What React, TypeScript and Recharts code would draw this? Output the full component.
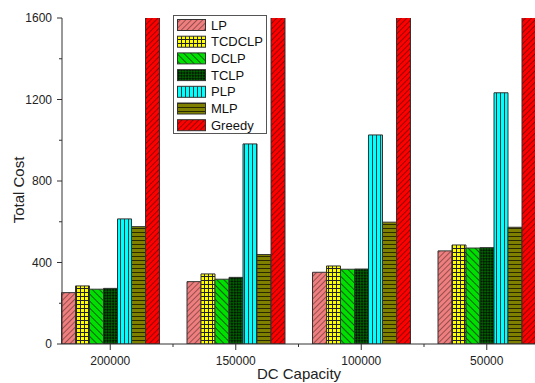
import React from "react";
import { BarChart, Bar, XAxis, YAxis } from "recharts";

const categories = ["200000", "150000", "100000", "50000"];
const lp = [252, 306, 352, 457];
const tcdclp = [285, 344, 383, 486];
const dclp = [269, 318, 367, 471];
const tclp = [273, 327, 368, 473];
const plp = [614, 982, 1026, 1233];
const mlp = [576, 439, 598, 573];
const greedy = [2400, 2400, 2400, 2400];
const yTicks = [0, 200, 400, 600, 800, 1000, 1200, 1400, 1600];

const series = [
  { key: "LP", values: lp, fill: "url(#pLP)" },
  { key: "TCDCLP", values: tcdclp, fill: "url(#pTCDCLP)" },
  { key: "DCLP", values: dclp, fill: "url(#pDCLP)" },
  { key: "TCLP", values: tclp, fill: "url(#pTCLP)" },
  { key: "PLP", values: plp, fill: "url(#pPLP)" },
  { key: "MLP", values: mlp, fill: "url(#pMLP)" },
  { key: "Greedy", values: greedy, fill: "url(#pGreedy)" },
];

const data = categories.map((c, i) => {
  const row: any = { name: c };
  series.forEach((s) => (row[s.key] = s.values[i]));
  return row;
});

const FONT = "'Liberation Sans', Arial, sans-serif";
const AXIS = "#333";

const Patterns = () => (
  <svg width={0} height={0} style={{ position: "absolute" }}>
    <defs>
      <pattern id="pLP" width={4} height={4} patternUnits="userSpaceOnUse" patternTransform="rotate(45)">
        <rect width={4} height={4} fill="#ef7f7f" />
        <line x1={0} y1={0} x2={0} y2={4} stroke="#5a2a2a" strokeWidth={1.2} />
      </pattern>
      <pattern id="pTCDCLP" width={4} height={4} patternUnits="userSpaceOnUse">
        <rect width={4} height={4} fill="#ffff00" />
        <line x1={0.5} y1={0} x2={0.5} y2={4} stroke="#222" strokeWidth={1} />
        <line x1={0} y1={0.5} x2={4} y2={0.5} stroke="#222" strokeWidth={1} />
      </pattern>
      <pattern id="pDCLP" width={5} height={5} patternUnits="userSpaceOnUse" patternTransform="rotate(-45)">
        <rect width={5} height={5} fill="#00e000" />
        <line x1={0} y1={0} x2={0} y2={5} stroke="#0a3a0a" strokeWidth={1.6} />
      </pattern>
      <pattern id="pTCLP" width={4} height={4} patternUnits="userSpaceOnUse" patternTransform="rotate(45)">
        <rect width={4} height={4} fill="#006000" />
        <rect width={2} height={2} fill="#001a00" />
        <rect x={2} y={2} width={2} height={2} fill="#001a00" />
      </pattern>
      <pattern id="pPLP" width={4} height={4} patternUnits="userSpaceOnUse">
        <rect width={4} height={4} fill="#00ffff" />
        <line x1={0.5} y1={0} x2={0.5} y2={4} stroke="#1a3a3a" strokeWidth={1} />
      </pattern>
      <pattern id="pMLP" width={4} height={4} patternUnits="userSpaceOnUse">
        <rect width={4} height={4} fill="#808000" />
        <line x1={0} y1={0.5} x2={4} y2={0.5} stroke="#2a2a00" strokeWidth={1} />
      </pattern>
      <pattern id="pGreedy" width={4} height={4} patternUnits="userSpaceOnUse" patternTransform="rotate(45)">
        <rect width={4} height={4} fill="#ff0000" />
        <line x1={0} y1={0} x2={0} y2={4} stroke="#4a0000" strokeWidth={1.2} />
      </pattern>
    </defs>
  </svg>
);

// half a category band, for the boundary ticks between groups
const BAND_HALF = 62.75;

const XTick = (props: any) => {
  const { x, y, payload, index } = props;
  return (
    <g>
      <line x1={x} y1={y} x2={x} y2={y + 6} stroke={AXIS} />
      {index > 0 && <line x1={x - BAND_HALF} y1={y} x2={x - BAND_HALF} y2={y + 3} stroke={AXIS} />}
      <text x={x} y={y + 21} textAnchor="middle" fontSize={12} fontFamily={FONT} fill="#222">
        {payload.value}
      </text>
    </g>
  );
};

const YTick = (props: any) => {
  const { x, y, payload } = props;
  const major = payload.value % 400 === 0;
  return (
    <g>
      <line x1={x - (major ? 5 : 3)} y1={y} x2={x} y2={y} stroke={AXIS} />
      {major && (
        <text x={x - 10} y={y + 4} textAnchor="end" fontSize={12} fontFamily={FONT} fill="#222">
          {payload.value}
        </text>
      )}
    </g>
  );
};

const LegendBox = () => (
  <svg width={95} height={119} style={{ position: "absolute", left: 173, top: 15 }}>
    <rect x={0.5} y={0.5} width={93} height={118} fill="#fff" stroke="#555" />
    {series.map((s, i) => {
      const cy = 10 + i * 16.7;
      return (
        <g key={s.key}>
          <rect x={4.5} y={cy - 5.5} width={28} height={11} fill={s.fill} stroke="#333" />
          <text x={38} y={cy + 4.5} fontSize={13} fontFamily={FONT} fill="#111">
            {s.key}
          </text>
        </g>
      );
    })}
  </svg>
);

export default function App() {
  return (
    <div
      style={{
        position: "absolute",
        left: 0,
        top: 0,
        width: 535,
        height: 383,
        overflow: "hidden",
        background: "#fff",
        fontFamily: FONT,
      }}
    >
      <Patterns />
      <BarChart
        width={535}
        height={383}
        data={data}
        margin={{ top: 18, right: 0, bottom: 0, left: 0 }}
        barGap={0}
        barCategoryGap={14}
      >
        <XAxis
          dataKey="name"
          height={39}
          padding={{ left: -14.5, right: -14.5 }}
          stroke={AXIS}
          tickLine={false}
          tickSize={0}
          tickMargin={0}
          tick={<XTick />}
          interval={0}
        />
        <YAxis
          width={62}
          domain={[0, 1600]}
          ticks={yTicks}
          allowDataOverflow
          stroke={AXIS}
          tickLine={false}
          tickSize={0}
          tickMargin={0}
          tick={<YTick />}
          interval={0}
        />
        {series.map((s) => (
          <Bar key={s.key} dataKey={s.key} fill={s.fill} stroke="#333" strokeWidth={1} isAnimationActive={false} />
        ))}
      </BarChart>
      <LegendBox />
      <div
        style={{
          position: "absolute",
          left: 18,
          top: 190,
          transform: "translate(-50%, -50%) rotate(-90deg)",
          fontSize: 15,
          color: "#222",
          whiteSpace: "nowrap",
        }}
      >
        Total Cost
      </div>
      <div
        style={{
          position: "absolute",
          left: 299,
          top: 365,
          transform: "translateX(-50%)",
          fontSize: 15,
          color: "#222",
          whiteSpace: "nowrap",
        }}
      >
        DC Capacity
      </div>
    </div>
  );
}
